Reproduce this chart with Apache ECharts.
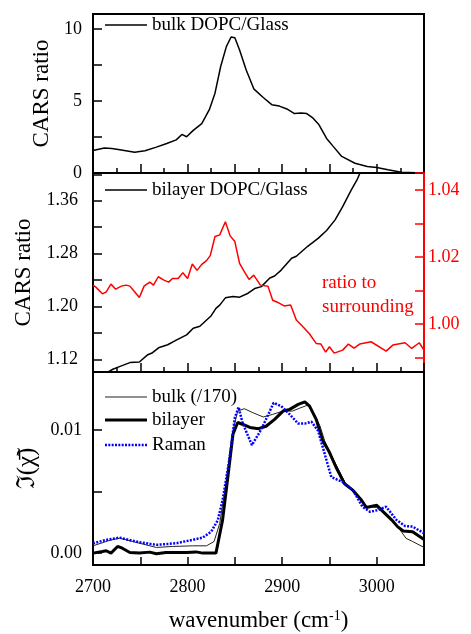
<!DOCTYPE html>
<html>
<head>
<meta charset="utf-8">
<script src="https://cdn.jsdelivr.net/npm/echarts@6.0.0/dist/echarts.min.js"></script>
<style>
  html, body { margin: 0; padding: 0; background: #fff; }
  #wrap { position: relative; width: 471px; height: 634px; }
  .panel { position: absolute; left: 0; top: 0; width: 471px; height: 634px; }
</style>
</head>
<body>
<div id="wrap">
  <div class="panel" id="panelTop"></div>
  <div class="panel" id="panelMid"></div>
  <div class="panel" id="panelBottom"></div>
</div>
<script>
// [wavenumber, value]
const bulkGlass = [
  [2700, 1.57], [2712, 1.73], [2720, 1.70], [2730, 1.60], [2744, 1.45], [2755, 1.55],
  [2767, 1.80], [2778, 2.05], [2788, 2.30], [2794, 2.68], [2799, 2.52], [2806, 2.96],
  [2815, 3.43], [2823, 4.40], [2829, 5.55], [2835, 7.40], [2841, 8.78], [2846, 9.45],
  [2850, 9.40], [2855, 8.55], [2862, 7.16], [2870, 5.85], [2880, 5.25], [2889, 4.75],
  [2897, 4.65], [2905, 4.45], [2913, 4.13], [2920, 4.17], [2926, 4.13], [2932, 3.85],
  [2939, 3.35], [2947, 2.40], [2954, 1.85], [2963, 1.15], [2977, 0.68], [2990, 0.45],
  [3000, 0.38], [3012, 0.22], [3026, 0.05], [3050, 0.0]
];
const bilayerGlass = [
  [2712, 1.097], [2716, 1.101], [2721, 1.105], [2728, 1.109], [2739, 1.115], [2749, 1.116],
  [2758, 1.127], [2763, 1.130], [2770, 1.138], [2779, 1.142], [2788, 1.149], [2799, 1.157],
  [2806, 1.167], [2813, 1.170], [2825, 1.186], [2830, 1.197], [2834, 1.202], [2840, 1.213],
  [2848, 1.215], [2855, 1.214], [2864, 1.220], [2871, 1.227], [2878, 1.230], [2887, 1.243],
  [2892, 1.246], [2899, 1.255], [2910, 1.273], [2915, 1.276], [2927, 1.291], [2938, 1.303],
  [2947, 1.315], [2956, 1.331], [2964, 1.351], [2973, 1.376], [2979, 1.391], [2983, 1.404],
  [2992, 1.440]
];
const ratioSurrounding = [
  [2700, 1.0116], [2703, 1.0110], [2710, 1.0090], [2714, 1.0096], [2719, 1.0119], [2724, 1.0104],
  [2730, 1.0113], [2735, 1.0116], [2739, 1.0113], [2744, 1.0096], [2749, 1.0079], [2754, 1.0113],
  [2760, 1.0125], [2764, 1.0116], [2769, 1.0141], [2775, 1.0131], [2780, 1.0125], [2784, 1.0136],
  [2790, 1.0136], [2795, 1.0153], [2800, 1.0136], [2805, 1.0179], [2810, 1.0160], [2815, 1.0178],
  [2820, 1.0189], [2824, 1.0204], [2829, 1.0261], [2834, 1.0266], [2840, 1.0305], [2845, 1.0263],
  [2850, 1.0246], [2855, 1.0181], [2860, 1.0156], [2865, 1.0133], [2870, 1.0146], [2877, 1.0116],
  [2885, 1.0113], [2890, 1.0071], [2895, 1.0065], [2902, 1.0054], [2909, 1.0057], [2915, 1.0012],
  [2922, 0.9992], [2929, 0.9970], [2936, 0.9942], [2941, 0.9940], [2946, 0.9916], [2950, 0.9932],
  [2955, 0.9913], [2964, 0.9922], [2970, 0.9940], [2976, 0.9928], [2982, 0.9940], [2994, 0.9947],
  [3010, 0.9919], [3017, 0.9937], [3030, 0.9944], [3037, 0.9927], [3045, 0.9944], [3050, 0.9922]
];
const bulkScaled = [
  [2700, 0.00059], [2717, 0.00102], [2728, 0.00121], [2742, 0.00094], [2767, 0.00046], [2784, 0.00054],
  [2805, 0.00059], [2820, 0.00059], [2828, 0.00094], [2834, 0.00241], [2841, 0.0059], [2848, 0.00992],
  [2853, 0.01153], [2860, 0.01172], [2869, 0.0114], [2880, 0.01105], [2890, 0.01126], [2901, 0.01153],
  [2911, 0.01153], [2918, 0.01175], [2927, 0.01201], [2934, 0.01126], [2940, 0.01032], [2945, 0.00911],
  [2954, 0.00764], [2968, 0.0055], [2978, 0.00483], [2989, 0.0038], [3000, 0.0037], [3010, 0.00308],
  [3021, 0.00228], [3031, 0.0012], [3038, 0.00094], [3050, 0.00046]
];
const bilayerIm = [
  [2700, 0.0], [2710, 0.00013], [2714, 0.00019], [2719, 0.0], [2726, 0.00054], [2731, 0.0004],
  [2739, 0.00005], [2749, 0.0], [2760, 0.00008], [2767, -0.00005], [2777, 0.00005], [2799, 0.00005],
  [2809, 0.0001], [2816, 0.0], [2830, 0.0], [2837, 0.00268], [2843, 0.00644], [2848, 0.00965],
  [2853, 0.0106], [2858, 0.01046], [2866, 0.0102], [2875, 0.0101], [2883, 0.0103], [2892, 0.01086],
  [2901, 0.01153], [2908, 0.01167], [2917, 0.01207], [2924, 0.01228], [2929, 0.01193], [2936, 0.01086],
  [2943, 0.00911], [2950, 0.00818], [2957, 0.00697], [2966, 0.00563], [2975, 0.00509], [2984, 0.00429],
  [2989, 0.0037], [3000, 0.00389], [3007, 0.00335], [3016, 0.00268], [3022, 0.00215], [3028, 0.0018],
  [3038, 0.00174], [3050, 0.0011]
];
const raman = [
  [2700, 0.0008], [2714, 0.00107], [2728, 0.00126], [2735, 0.00113], [2749, 0.00088], [2767, 0.00067],
  [2788, 0.0008], [2805, 0.00107], [2816, 0.00126], [2825, 0.00174], [2832, 0.00268], [2837, 0.00429],
  [2844, 0.0075], [2850, 0.011], [2854, 0.01185], [2858, 0.0106], [2868, 0.00877], [2876, 0.00979],
  [2883, 0.01086], [2891, 0.0122], [2899, 0.01193], [2908, 0.01126], [2917, 0.01051], [2924, 0.01051],
  [2931, 0.01067], [2938, 0.00992], [2945, 0.00805], [2952, 0.00617], [2964, 0.00577], [2975, 0.00509],
  [2985, 0.00376], [2993, 0.00335], [3001, 0.00349], [3010, 0.00376], [3021, 0.00268], [3030, 0.0022],
  [3038, 0.00215], [3050, 0.00161]
];

// tick labels
const xLabels = [2700, 2800, 2900, 3000];
const yLabelsTop = [0, 5, 10];
const yLabelsMid = [1.12, 1.20, 1.28, 1.36];
const yLabelsRatio = [1.00, 1.02, 1.04];
const yLabelsBottom = [0, 0.01];

// axis ranges
const X_MIN = 2700, X_MAX = 3050;

const FONT = 'Liberation Serif, DejaVu Serif, serif';
const RED = '#ff0000';
const BLUE = '#0000ff';

// dotted legend icon
let dotPath = 'path://';
for (let x = 0; x < 42; x += 3.4) {
  dotPath += 'M' + x + ',0h2v2.5h-2z';
}

// formatter that never throws, whatever it is handed
const fixed = (digits) => (v) => {
  const n = Number(v && typeof v === 'object' ? v.value : v);
  return isFinite(n) ? n.toFixed(digits) : '';
};

const tickLine = (color) => ({ color: color, width: 1.5 });

// ticks land on multiples of the step
const xAxisBase = (step, len) => ({
  type: 'value',
  min: X_MIN,
  max: X_MAX,
  minInterval: step,
  maxInterval: step,
  axisLine: { show: true, onZero: false, lineStyle: { color: '#000', width: 2 } },
  axisTick: { show: true, inside: true, length: len, lineStyle: tickLine('#000') },
  axisLabel: { show: false },
  splitLine: { show: false }
});

const yAxisBase = (min, max, step, labels, digits, color) => ({
  type: 'value',
  min: min,
  max: max,
  minInterval: step,
  maxInterval: step,
  axisLine: { show: true, lineStyle: { color: color, width: 2 } },
  axisTick: { show: true, inside: true, length: 9, lineStyle: tickLine(color) },
  axisLabel: {
    customValues: labels, margin: 11, color: color, fontSize: 18, fontFamily: FONT,
    formatter: fixed(digits)
  },
  splitLine: { show: false }
});

const legendBase = (name, top, h, icon) => ({
  data: [{ name: name, icon: icon }],
  left: 105,
  top: top,
  padding: 0,
  itemWidth: 42,
  itemHeight: h,
  symbolKeepAspect: false,
  textStyle: { color: '#000', fontSize: 19, fontFamily: FONT, lineHeight: 20 }
});

const gridBase = (top, height) => ({
  left: 93, width: 331, top: top, height: height,
  show: true, backgroundColor: 'transparent', borderColor: '#000', borderWidth: 2
});

const lineSeries = (name, data, color, width, type) => ({
  name: name, type: 'line', data: data, symbol: 'none',
  lineStyle: { color: color, width: width, type: type || 'solid' },
  itemStyle: { color: color }
});

const yName = (text, gap, size) => ({
  name: text, nameLocation: 'middle', nameGap: gap,
  nameTextStyle: { color: '#000', fontSize: size, fontFamily: FONT }
});

// one chart per panel, stacked on the same 471x634 canvas
const topChart = echarts.init(document.getElementById('panelTop'));
topChart.setOption({
  animation: false,
  legend: legendBase('bulk DOPC/Glass', 15, 1.5, 'rect'),
  grid: gridBase(14, 159),
  xAxis: Object.assign(xAxisBase(50, 9), {
    minorTick: { show: true, splitNumber: 2, length: 5, lineStyle: tickLine('#000') }
  }),
  yAxis: Object.assign(yAxisBase(0, 11.05, 2.5, yLabelsTop, 0, '#000'), yName('CARS ratio', 32, 23)),
  series: [lineSeries('bulk DOPC/Glass', bulkGlass, '#000', 1.5)]
});

const midChart = echarts.init(document.getElementById('panelMid'));
const midLeft = Object.assign(yAxisBase(1.1008, 1.4019, 0.04, yLabelsMid, 2, '#000'), yName('CARS ratio', 45, 23));
midLeft.axisLabel.margin = 15;
const midRight = Object.assign(yAxisBase(0.98567, 1.04507, 0.01, yLabelsRatio, 2, RED), { position: 'right' });
midRight.axisLabel.margin = 4;
midChart.setOption({
  animation: false,
  title: {
    text: 'ratio to\nsurrounding',
    left: 322,
    top: 271,
    padding: 0,
    textStyle: { color: RED, fontSize: 19, fontWeight: 'normal', fontFamily: FONT, lineHeight: 24 }
  },
  legend: legendBase('bilayer DOPC/Glass', 180, 1.5, 'rect'),
  grid: gridBase(173, 199),
  xAxis: Object.assign(xAxisBase(50, 9), {
    minorTick: { show: true, splitNumber: 2, length: 5, lineStyle: tickLine('#000') }
  }),
  yAxis: [midLeft, midRight],
  series: [
    Object.assign(lineSeries('bilayer DOPC/Glass', bilayerGlass, '#000', 1.5), { yAxisIndex: 0 }),
    Object.assign(lineSeries('ratio to surrounding', ratioSurrounding, RED, 1.5), { yAxisIndex: 1 })
  ]
});

const bottomChart = echarts.init(document.getElementById('panelBottom'));
const bottomX = Object.assign(xAxisBase(50, 8), {
  name: 'wavenumber (cm{sup|-1})',
  nameLocation: 'middle',
  nameGap: 44,
  nameTextStyle: {
    color: '#000', fontSize: 23, fontFamily: FONT,
    rich: { sup: { fontSize: 14, fontFamily: FONT, verticalAlign: 'top', lineHeight: 14, padding: [0, 0, 10, 0] } }
  }
});
bottomX.axisLabel = {
  show: true, customValues: xLabels, margin: 13,
  color: '#000', fontSize: 18, fontFamily: FONT,
  formatter: fixed(0)
};
bottomChart.setOption({
  animation: false,
  legend: [
    legendBase('bulk (/170)', 387, 1, 'rect'),
    legendBase('bilayer', 410, 3, 'rect'),
    legendBase('Raman', 435, 2.5, dotPath)
  ],
  grid: gridBase(372, 200),
  xAxis: bottomX,
  yAxis: Object.assign(yAxisBase(-0.000965, 0.0147, 0.005, yLabelsBottom, 2, '#000'), yName('ℑ(χ\u0303\u0304)', 48, 25)),
  series: [
    lineSeries('bulk (/170)', bulkScaled, '#222', 1),
    lineSeries('bilayer', bilayerIm, '#000', 3),
    lineSeries('Raman', raman, BLUE, 2.5, [2, 1.4])
  ]
});
</script>
</body>
</html>
